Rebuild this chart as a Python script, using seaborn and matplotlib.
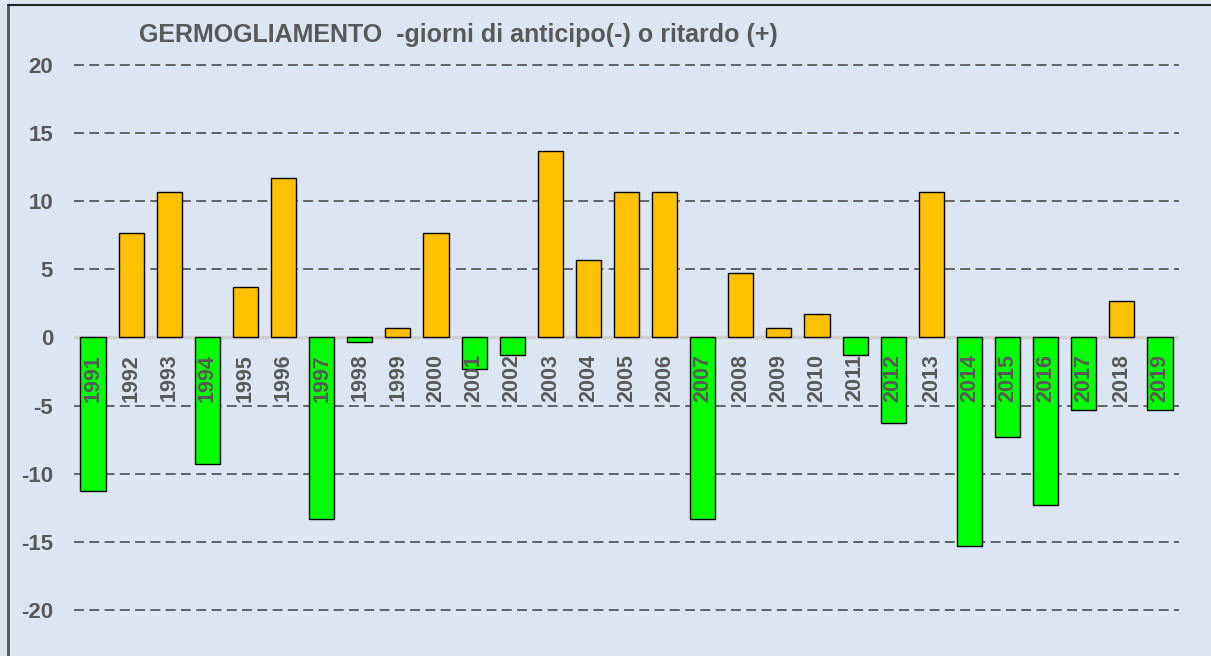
import pandas as pd
import matplotlib.pyplot as plt
import seaborn as sns
from matplotlib.lines import Line2D

# Data
years = list(range(1991, 2020))
giorni = [-11.3, 7.7, 10.7, -9.3, 3.7, 11.7, -13.3, -0.3, 0.7, 7.7,
          -2.3, -1.3, 13.7, 5.7, 10.7, 10.7, -13.3, 4.7, 0.7, 1.7,
          -1.3, -6.3, 10.7, -15.3, -7.3, -12.3, -5.3, 2.7, -5.3]
title = "GERMOGLIAMENTO  -giorni di anticipo(-) o ritardo (+)"

df = pd.DataFrame({"anno": [str(y) for y in years], "giorni": giorni})
df["segno"] = ["ritardo" if v > 0 else "anticipo" for v in giorni]

sns.set_style("white")
plt.rcParams['font.family'] = ['Liberation Sans', 'DejaVu Sans']

bg = "#DCE6F2"
txt = "#595959"

fig = plt.figure(figsize=(12.11, 6.56), dpi=100)
fig.patch.set_facecolor(bg)

# axes placement (pixels -> figure fraction)
W, H = 1211, 656
ymin, ymax = -23, 22
ppu = (610 - 65) / 40.0
top_px = 65 - (ymax - 20) * ppu
bot_px = 610 + (-20 - ymin) * ppu
ax = fig.add_axes([74 / W, 1 - bot_px / H, (1179 - 74) / W, (bot_px - top_px) / H])
ax.set_facecolor(bg)

sns.barplot(data=df, x="anno", y="giorni", hue="segno",
            palette={"ritardo": "#FFC000", "anticipo": "#00FF00"},
            dodge=False, width=0.66, saturation=1, edgecolor="black",
            linewidth=1, legend=False, ax=ax, zorder=3)

ax.set_ylim(ymin, ymax)
ax.set_xlim(-0.5, len(years) - 0.5)
for s in ax.spines.values():
    s.set_visible(False)

# gridlines
for v in [-20, -15, -10, -5, 5, 10, 15, 20]:
    ax.axhline(v, color="#404040", lw=1.1, dashes=(6.5, 3.5), zorder=1)
ax.axhline(0, color="#D0D0D0", lw=2.5, zorder=2)

ticks = [-20, -15, -10, -5, 0, 5, 10, 15, 20]
ax.set_yticks(ticks)
ax.set_yticklabels([str(v) for v in ticks],
                   fontsize=16, fontweight="bold", color=txt)
ax.tick_params(axis="y", length=0, pad=15)
ax.set_xticks([])
ax.set_xlabel("")
ax.set_ylabel("")

# year labels just under the zero line
for i, y in enumerate(df["anno"]):
    ax.text(i, -1.2, y, rotation=90, ha="center", va="top",
            fontsize=15.5, fontweight="bold", color=txt, zorder=5)

fig.text(458 / W, 1 - 35 / H, title, ha="center", va="center",
         fontsize=18, fontweight="bold", color=txt)

# frame around chart area (left and top)
fig.add_artist(Line2D([8 / W, 8 / W], [0, 1 - 5 / H], color="#555555", lw=2,
                      transform=fig.transFigure))
fig.add_artist(Line2D([8 / W, 1], [1 - 5 / H, 1 - 5 / H], color="#222222", lw=1.5,
                      transform=fig.transFigure))

fig.savefig("out.png", dpi=100, facecolor=bg)
